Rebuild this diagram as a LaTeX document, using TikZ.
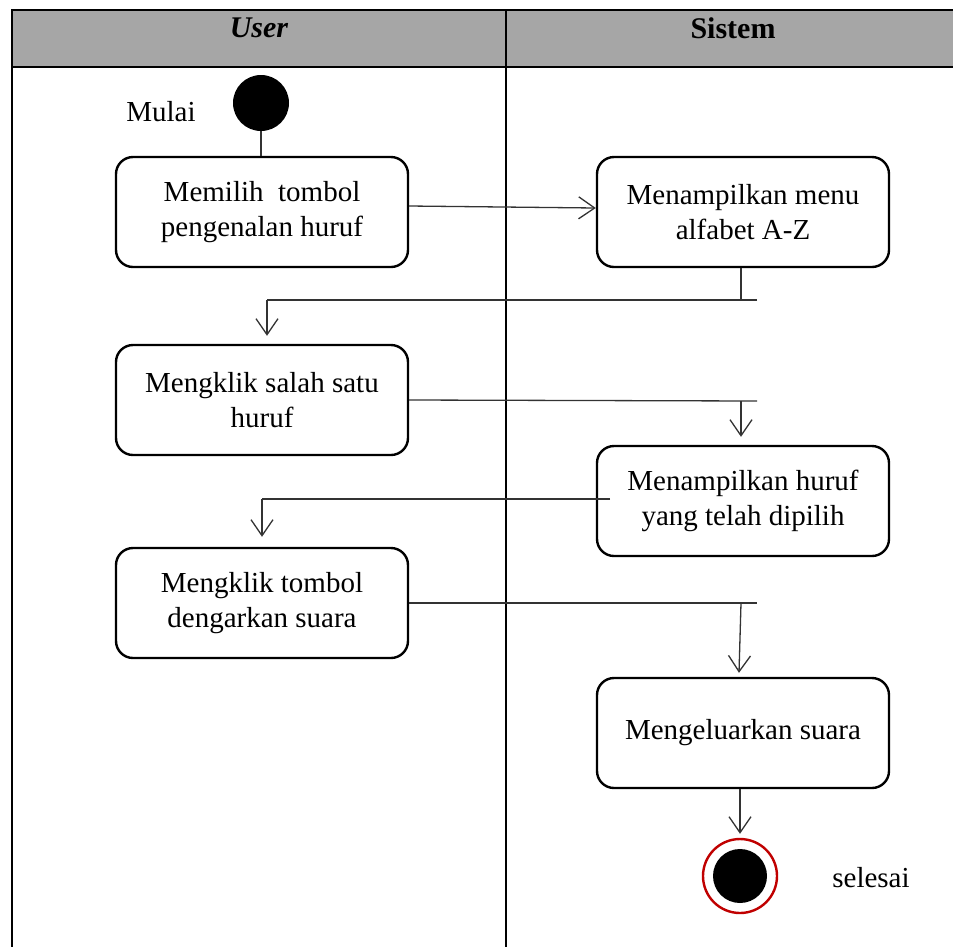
\documentclass[tikz,border=0pt]{standalone}
\usepackage{fontspec}
\setmainfont{Liberation Serif}
\usetikzlibrary{arrows.meta,calc}
\definecolor{headgray}{HTML}{A6A6A6}
\definecolor{ringred}{HTML}{C00000}
\definecolor{flowline}{HTML}{333333}
\begin{document}
\begin{tikzpicture}[x=1pt,y=-1pt,
  lane/.style={line width=2pt},
  actbox/.style={draw, line width=2.4pt, rounded corners=17pt,
    minimum width=292pt, minimum height=110pt, align=center,
    font=\fontsize{29}{35}\selectfont, inner sep=0pt},
  flow/.style={draw=flowline, line width=1.3pt},
  flowarrow/.style={flow, -{Straight Barb[length=16pt,width=22pt,line width=1.3pt]}},
  lbl/.style={font=\fontsize{29}{35}\selectfont, inner sep=0pt},
  headtxt/.style={font=\fontsize{30}{36}\selectfont\bfseries, inner sep=0pt}
]
\useasboundingbox (0,0) rectangle (953,946);

% swimlane table
\fill[headgray] (12,10) rectangle (960,67);
\draw[lane] (960,10) -- (12,10) -- (12,950);
\draw[lane] (12,67) -- (960,67);
\draw[lane] (506,10) -- (506,950);
\node[headtxt] (hUser) at (259,28) {\itshape User};
\node[headtxt] (hSys) at (733,28) {Sistem};

% start and activities
\node[circle, fill=black, minimum size=56pt, inner sep=0pt] (start) at (261,103) {};
\node[lbl] (mulai) at (161,112) {Mulai};

\node[actbox] (b1) at (262,212) {Memilih\ \ tombol\\pengenalan huruf};
\node[actbox] (b2) at (743,212) {Menampilkan menu\\alfabet A-Z};
\node[actbox] (b3) at (262,400) {Mengklik salah satu\\huruf};
\node[actbox] (b4) at (743,501) {Menampilkan huruf\\yang telah dipilih};
\node[actbox] (b5) at (262,603) {Mengklik tombol\\dengarkan suara};
\node[actbox] (b6) at (743,733) {Mengeluarkan suara};

% end node
\node[circle, draw=ringred, line width=2.4pt, fill=white, minimum size=74pt, inner sep=0pt] (stop) at (740,876) {};
\node[circle, fill=black, minimum size=54pt, inner sep=0pt] (stopin) at (stop.center) {};
\node[lbl] (selesai) at (871,878) {selesai};

% junction points
\coordinate (j1r) at (757,300);
\coordinate (j1l) at (267,300);
\coordinate (j2r) at (757,401);
\coordinate (j3r) at (610,499);
\coordinate (j3l) at (262,499);
\coordinate (j4r) at (757,603);

% flows
\draw[flow] (start.south) -- (start.south |- b1.north);
\draw[flowarrow] ([yshift=6pt]b1.east) -- ([yshift=4pt]b2.west);

\draw[flow] (b2.south -| 741,0) -- (j1r -| 741,0);
\draw[flow] (j1r) -- (j1l);
\draw[flowarrow] (j1l) -- ($(j1l |- b3.north)+(0,-8)$);

\draw[flow] (b3.east) -- (j2r);
\draw[flowarrow] (j2r -| 741,0) -- ($(b4.north -| 741,0)+(0,-8)$);

\draw[flow] (j3r) -- (j3l);
\draw[flowarrow] (j3l) -- ($(j3l |- b5.north)+(0,-10)$);

\draw[flow] (b5.east) -- (j4r);
\draw[flowarrow] (j4r -| 741,0) -- ($(b6.north -| 739,0)+(0,-4)$);

\draw[flowarrow] (b6.south -| 740,0) -- ($(stop.north)+(0,-4)$);
\end{tikzpicture}
\end{document}
